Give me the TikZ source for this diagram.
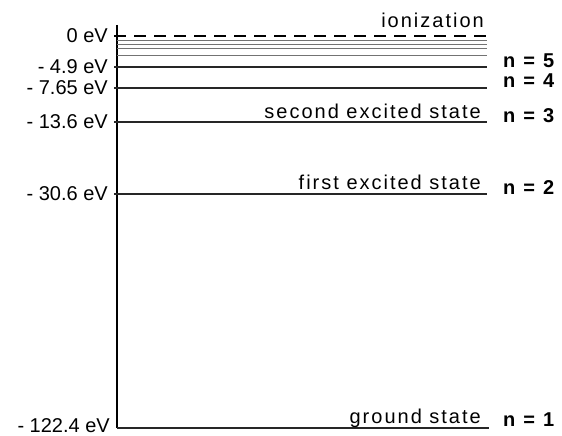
\documentclass[tikz,border=0pt]{standalone}
\usepackage{fontspec}
\setmainfont{Liberation Sans}
\newfontfamily\spacedfont[LetterSpace=10]{Liberation Sans}
\usetikzlibrary{positioning}

\begin{document}
\begin{tikzpicture}[x=1pt, y=-1pt, font=\fontsize{20}{24}\selectfont,
        energy/.style={inner sep=0pt, font=\fontsize{20}{24}\selectfont},
        state/.style={anchor=base east, inner sep=0pt, font=\fontsize{20}{24}\spacedfont},
        quantum/.style={anchor=base west, inner sep=0pt, font=\fontsize{20}{24}\spacedfont\bfseries},
        level/.style={line width=1.8pt, draw=black!85},
        sublevel/.style={line width=0.9pt, draw=black!55}]
        \useasboundingbox (0,0) rectangle (562,436);

        % energy axis
        \coordinate (top) at (117,25);
        \coordinate (bottom) at (117,428);
        \draw[line width=1.4pt] (top) -- (bottom);

        % ionization limit
        \coordinate (a0) at (114,36);
        \coordinate (b0) at (487,36);
        \draw[line width=2.4pt, dash pattern=on 12pt off 8pt] (a0) -- (b0);
        \node[energy, left=6pt of a0] (e0) {0 eV};
        \node[state] (ion) at (484,28) {ionization};

        % crowded upper levels
        \foreach \y [count=\i] in {40,44,48,55} {
            \coordinate (ua\i) at (117,\y);
            \coordinate (ub\i) at (487,\y);
            \draw[sublevel] (ua\i) -- (ub\i);
        }

        % bound states
        \coordinate (a5) at (114,67);
        \coordinate (b5) at (487,67);
        \coordinate (a4) at (114,88);
        \coordinate (b4) at (487,88);
        \coordinate (a3) at (114,122);
        \coordinate (b3) at (487,122);
        \coordinate (a2) at (114,194);
        \coordinate (b2) at (487,194);
        \coordinate (a1) at (117,428);
        \coordinate (b1) at (489,428);

        \draw[level, line width=2.2pt] (a5) -- (b5);
        \draw[level, line width=2pt] (a4) -- (b4);
        \draw[level] (a3) -- (b3);
        \draw[level] (a2) -- (b2);
        \draw[level] (a1) -- (b1);

        \node[energy, left=6pt of a5] (e5) {- 4.9 eV};
        \node[energy, left=6pt of a4] (e4) {- 7.65 eV};
        \node[energy, left=6pt of a3] (e3) {- 13.6 eV};
        \node[energy, left=6pt of a2] (e2) {- 30.6 eV};
        \node[energy, left=7pt of a1, yshift=2pt] (e1) {- 122.4 eV};

        \node[state] (s3) at (481,118) {second excited state};
        \node[state] (s2) at (481,189) {first excited state};
        \node[state] (s1) at (481,423) {ground state};

        \node[quantum] (n5) at (503,67) {n\hspace{8pt}=\hspace{8pt}5};
        \node[quantum] (n4) at (503,88) {n\hspace{8pt}=\hspace{8pt}4};
        \node[quantum] (n3) at (503,122) {n\hspace{8pt}=\hspace{8pt}3};
        \node[quantum] (n2) at (503,194) {n\hspace{8pt}=\hspace{8pt}2};
        \node[quantum] (n1) at (503,426) {n\hspace{8pt}=\hspace{8pt}1};
    \end{tikzpicture}
\end{document}
